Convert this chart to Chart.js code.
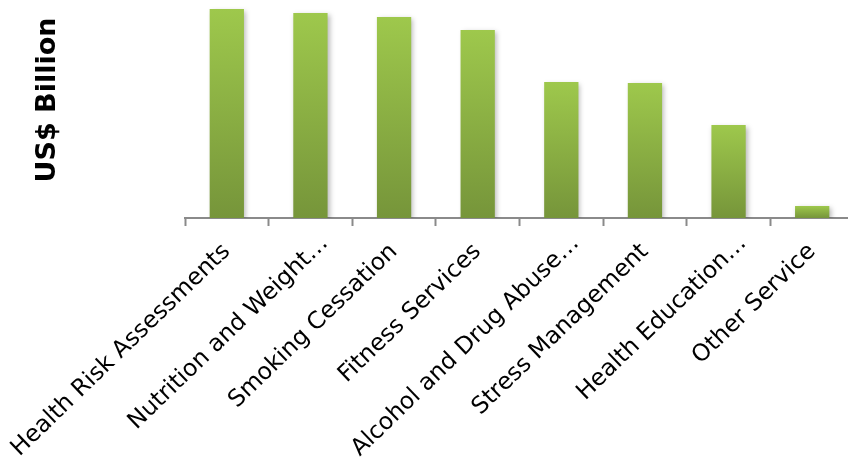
<!DOCTYPE html>
<html>
<head>
<meta charset="utf-8">
<script src="https://cdn.jsdelivr.net/npm/chart.js@4/dist/chart.umd.min.js"></script>
<style>
  html, body { margin: 0; padding: 0; background: #fff; overflow: hidden; }
  #wrap { width: 854px; height: 459px; }
</style>
</head>
<body>
<div id="wrap"><canvas id="c" width="854" height="459"></canvas></div>
<script>
// Wellness service categories and their market size (US$ billion)
const categories = [
  "Health Risk Assessments",
  "Nutrition and Weight…",
  "Smoking Cessation",
  "Fitness Services",
  "Alcohol and Drug Abuse…",
  "Stress Management",
  "Health Education…",
  "Other Service"
];
const marketSize = [9.59, 9.40, 9.22, 8.62, 6.24, 6.19, 4.27, 0.55];
const axisMax = 10;
const axisTitle = "US$ Billion";

const LABEL_FONT = '23.5px "DejaVu Sans", Verdana, sans-serif';
const LABEL_ROTATION = 44; // degrees
const TICK_LEN = 8;
const LABEL_PAD = 12;

// Vertical gradient per bar: light green on top, darker olive at the base
function barGradient(ctx) {
  const chart = ctx.chart;
  const y = chart.scales && chart.scales.y;
  if (!chart.chartArea || !y || ctx.type !== 'data') return '#8db043';
  const top = y.getPixelForValue(ctx.raw);
  const base = y.getPixelForValue(0);
  const g = chart.ctx.createLinearGradient(0, top, 0, base);
  g.addColorStop(0, '#9ec84c');
  g.addColorStop(1, '#76953a');
  return g;
}

// Soft drop shadow behind the bars
const barShadow = {
  id: 'barShadow',
  beforeDatasetsDraw(chart) {
    const c = chart.ctx;
    c.save();
    c.shadowColor = 'rgba(0,0,0,0.28)';
    c.shadowBlur = 5;
    c.shadowOffsetX = 2;
    c.shadowOffsetY = 2;
  },
  afterDatasetsDraw(chart) {
    chart.ctx.restore();
  }
};

// Rotated category labels; truncated (…) labels sit a little further out
const categoryLabels = {
  id: 'categoryLabels',
  afterDraw(chart) {
    const xs = chart.scales.x;
    const c = chart.ctx;
    const rot = LABEL_ROTATION * Math.PI / 180;
    const lh = 23.5 * 1.2;
    c.save();
    c.font = LABEL_FONT;
    c.fillStyle = '#000';
    c.textAlign = 'right';
    c.textBaseline = 'middle';
    xs.ticks.forEach((t, i) => {
      const label = chart.data.labels[i];
      const px = xs.getPixelForTick(i);
      const truncated = label.endsWith('…');
      c.save();
      c.translate(px - (lh / 2) * Math.sin(rot), xs.top + TICK_LEN + LABEL_PAD);
      c.rotate(-rot);
      c.fillText(label, truncated ? 16 : 0, lh / 2 + (truncated ? 4 : 0));
      c.restore();
    });
    c.restore();
  }
};

// Rotated value-axis title at the left
const sideTitle = {
  id: 'sideTitle',
  afterDraw(chart) {
    const c = chart.ctx;
    c.save();
    c.translate(48, 100);
    c.rotate(-Math.PI / 2);
    c.font = 'bold 27px "DejaVu Sans", Verdana, sans-serif';
    c.fillStyle = '#000';
    c.textAlign = 'center';
    c.textBaseline = 'middle';
    c.fillText(axisTitle, 0, 0);
    c.restore();
  }
};

new Chart(document.getElementById('c'), {
  type: 'bar',
  data: {
    labels: categories,
    datasets: [{
      data: marketSize,
      backgroundColor: barGradient,
      borderWidth: 0,
      categoryPercentage: 1,
      barPercentage: 0.41
    }]
  },
  options: {
    responsive: false,
    animation: false,
    layout: { padding: 0 },
    plugins: { legend: { display: false }, tooltip: { enabled: false } },
    scales: {
      x: {
        grid: {
          display: true,
          drawOnChartArea: false,
          drawTicks: true,
          tickLength: TICK_LEN,
          tickWidth: 2,
          color: '#8a8a8a',
          offset: true
        },
        border: { display: true, color: '#8a8a8a', width: 2 },
        ticks: { display: false, autoSkip: false },
        afterFit(scale) {
          scale.height = 241;
          scale.paddingLeft = 0;
          scale.paddingRight = 0;
        }
      },
      y: {
        min: 0,
        max: axisMax,
        grid: { display: false },
        border: { display: false },
        ticks: { display: false },
        afterFit(scale) { scale.width = 185; }
      }
    }
  },
  plugins: [barShadow, categoryLabels, sideTitle]
});
</script>
</body>
</html>
